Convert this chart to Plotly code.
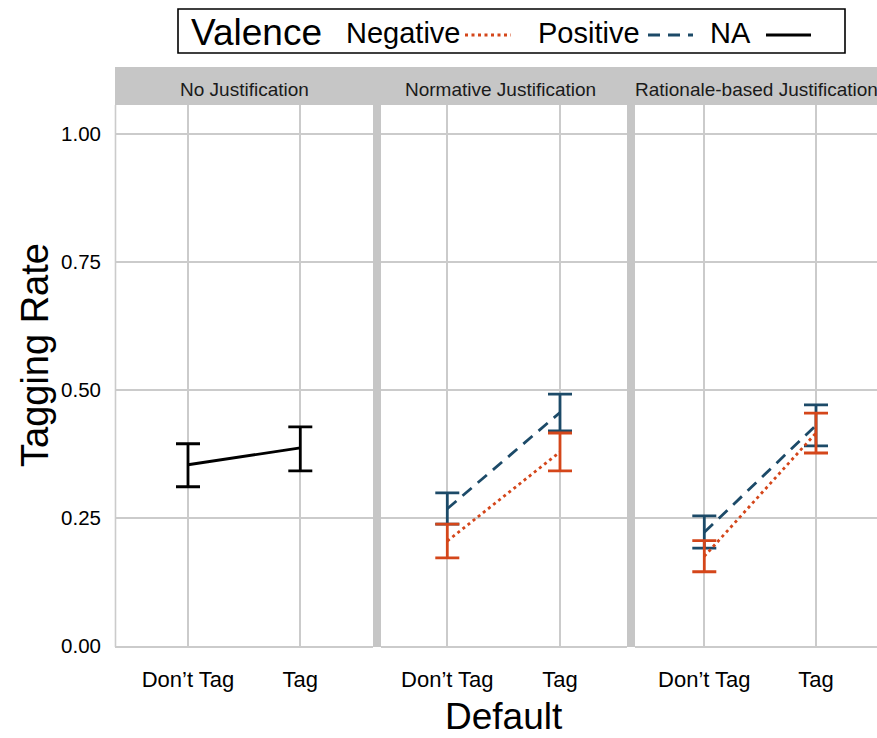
import plotly.graph_objects as go

# ---------------- data ----------------
categories = ["Don\u2019t Tag", "Tag"]
panels = ["No Justification", "Normative Justification", "Rationale-based Justification"]
y_tickvals = [0, 0.25, 0.5, 0.75, 1.0]
y_ticktext = ["0.00", "0.25", "0.50", "0.75", "1.00"]

# No Justification (Valence = NA)
na_mean = [0.354, 0.387]
na_low = [0.311, 0.342]
na_high = [0.395, 0.428]

# Normative Justification
norm_pos_mean = [0.268, 0.456]
norm_pos_low = [0.238, 0.420]
norm_pos_high = [0.299, 0.492]
norm_neg_mean = [0.205, 0.379]
norm_neg_low = [0.172, 0.342]
norm_neg_high = [0.238, 0.416]

# Rationale-based Justification
rat_pos_mean = [0.222, 0.431]
rat_pos_low = [0.191, 0.391]
rat_pos_high = [0.254, 0.471]
rat_neg_mean = [0.175, 0.416]
rat_neg_low = [0.145, 0.377]
rat_neg_high = [0.206, 0.455]

# ---------------- styling ----------------
FONT = "Liberation Sans, Arial, Helvetica, sans-serif"
C_NEG = "#d4461a"
C_POS = "#1c4a68"
C_NA = "#000000"
GRID = "#cbcbcb"
STRIP = "#c6c6c6"
LW = 2.8

W, H = 877, 738
ML, MR, MT, MB = 115, 0, 67, 92
PW, PH = W - ML - MR, H - MT - MB


def px_x(px):
    return (px - ML) / PW


def px_y(py):
    return (H - MB - py) / PH


fig = go.Figure()

styles = {
    "NA": dict(color=C_NA, dash="solid"),
    "Positive": dict(color=C_POS, dash="12px,8px"),
    "Negative": dict(color=C_NEG, dash="3px,3.5px"),
}


def add_series(mean, low, high, name, xa, ya):
    st = styles[name]
    fig.add_trace(go.Scatter(
        x=categories, y=mean, mode="lines", name=name, showlegend=False,
        xaxis=xa, yaxis=ya,
        line=dict(color=st["color"], width=LW, dash=st["dash"]),
        error_y=dict(type="data", symmetric=False,
                     array=[h - m for h, m in zip(high, mean)],
                     arrayminus=[m - l for m, l in zip(mean, low)],
                     color=st["color"], thickness=LW, width=12),
    ))


add_series(na_mean, na_low, na_high, "NA", "x", "y")
add_series(norm_pos_mean, norm_pos_low, norm_pos_high, "Positive", "x2", "y2")
add_series(norm_neg_mean, norm_neg_low, norm_neg_high, "Negative", "x2", "y2")
add_series(rat_pos_mean, rat_pos_low, rat_pos_high, "Positive", "x3", "y3")
add_series(rat_neg_mean, rat_neg_low, rat_neg_high, "Negative", "x3", "y3")

ytop = (646 - 105) / 512
ydom = [0, px_y(105)]

panel_px = [(115, 373, 188, 300.3), (381, 627, 447.3, 560), (635, 877, 704.3, 816)]
xaxes = {}
for i, (l, r, c0, c1) in enumerate(panel_px):
    u = c1 - c0
    rng = [(l - c0) / u, (r - c0) / u]
    key = "xaxis" if i == 0 else f"xaxis{i+1}"
    xaxes[key] = dict(
        domain=[px_x(l), px_x(r)], anchor="y" if i == 0 else f"y{i+1}",
        type="category", categoryarray=categories, range=rng,
        showgrid=True, gridcolor=GRID, gridwidth=1.6,
        showline=True, linecolor=GRID, linewidth=1.6, zeroline=False,
        ticks="", ticklabelstandoff=13,
        tickfont=dict(family=FONT, size=22, color="#000000"),
    )
yaxes = {}
for i in range(3):
    key = "yaxis" if i == 0 else f"yaxis{i+1}"
    yaxes[key] = dict(
        domain=ydom, anchor="x" if i == 0 else f"x{i+1}",
        range=[0, ytop], tickvals=y_tickvals, ticktext=y_ticktext,
        showticklabels=(i == 0), showgrid=True, gridcolor=GRID, gridwidth=1.6,
        zeroline=False, ticks="", ticklabelstandoff=13,
        tickfont=dict(family=FONT, size=20.5, color="#000000"),
    )
    if i > 0:
        yaxes[key]["matches"] = "y"

shapes = []
# strip background
shapes.append(dict(type="rect", xref="paper", yref="paper", x0=0, x1=1,
                   y0=px_y(105), y1=px_y(67), fillcolor=STRIP, line=dict(width=0),
                   layer="below"))
# panel separators
for a, b in [(373, 381), (627, 635)]:
    shapes.append(dict(type="rect", xref="paper", yref="paper", x0=px_x(a), x1=px_x(b),
                       y0=px_y(647), y1=px_y(105), fillcolor=STRIP, line=dict(width=0)))
# left border
shapes.append(dict(type="line", xref="paper", yref="paper", x0=px_x(115.5), x1=px_x(115.5),
                   y0=px_y(647), y1=px_y(105), line=dict(color=GRID, width=1.6)))

annotations = []
strip_centers = [244, 500, 756]
for name, cx in zip(panels, strip_centers):
    annotations.append(dict(text=name, xref="paper", yref="paper", x=px_x(cx), y=px_y(89),
                            xanchor="center", yanchor="middle", showarrow=False,
                            font=dict(family=FONT, size=19, color="#1a1a1a")))

# axis titles
annotations.append(dict(text="Tagging Rate", xref="paper", yref="paper", x=px_x(35), y=px_y(355),
                        textangle=-90, xanchor="center", yanchor="middle", showarrow=False,
                        font=dict(family=FONT, size=38, color="#000000")))
annotations.append(dict(text="Default", xref="paper", yref="paper", x=px_x(504), y=px_y(716),
                        xanchor="center", yanchor="middle", showarrow=False,
                        font=dict(family=FONT, size=37, color="#000000")))

# custom legend (labels left of keys, as in reference)
shapes.append(dict(type="rect", xref="paper", yref="paper", x0=px_x(178), x1=px_x(845),
                   y0=px_y(53), y1=px_y(9), line=dict(color="#000000", width=1.6),
                   fillcolor="white"))
annotations.append(dict(text="Valence", xref="paper", yref="paper", x=px_x(189), y=px_y(33),
                        xanchor="left", yanchor="middle", showarrow=False,
                        font=dict(family=FONT, size=37, color="#000000")))
legend_items = [("Negative", 344, 465, 511, "Negative"),
                ("Positive", 536, 648, 693, "Positive"),
                ("NA", 708, 766, 811, "NA")]
for label, tx, k0, k1, key in legend_items:
    annotations.append(dict(text=label, xref="paper", yref="paper", x=px_x(tx), y=px_y(33),
                            xanchor="left", yanchor="middle", showarrow=False,
                            font=dict(family=FONT, size=29, color="#000000")))
    st = styles[key]
    shapes.append(dict(type="line", xref="paper", yref="paper", x0=px_x(k0), x1=px_x(k1),
                       y0=px_y(35), y1=px_y(35),
                       line=dict(color=st["color"], width=LW, dash=st["dash"])))

fig.update_layout(
    width=W, height=H,
    margin=dict(l=ML, r=MR, t=MT, b=MB, pad=0),
    paper_bgcolor="white", plot_bgcolor="white",
    showlegend=False,
    shapes=shapes, annotations=annotations,
    font=dict(family=FONT, color="#000000"),
    **xaxes, **yaxes,
)

fig.write_html("out.html", config={"displayModeBar": False},
               post_script="document.body.style.margin='0';document.body.style.padding='0';")
